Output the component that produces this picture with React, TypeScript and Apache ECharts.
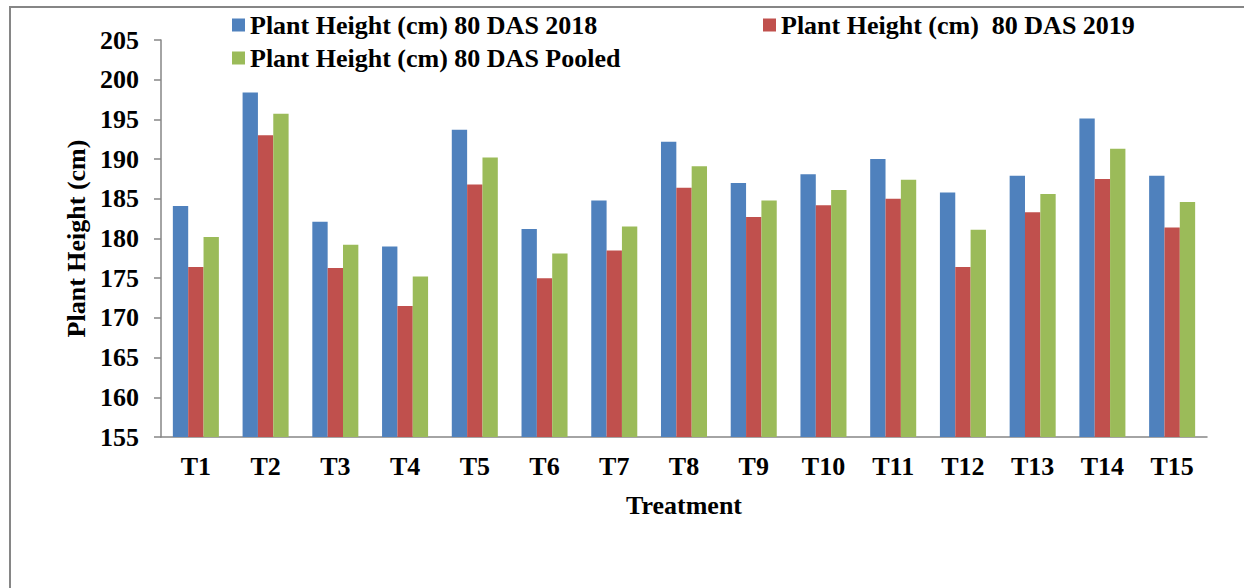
import React, { useEffect, useRef } from "react";
import * as echarts from "echarts";

const categories = ["T1", "T2", "T3", "T4", "T5", "T6", "T7", "T8", "T9", "T10", "T11", "T12", "T13", "T14", "T15"];
const seriesNames = [
  "Plant Height (cm) 80 DAS 2018",
  "Plant Height (cm)  80 DAS 2019",
  "Plant Height (cm) 80 DAS Pooled",
];
const values2018 = [184.1, 198.4, 182.1, 179.0, 193.7, 181.2, 184.8, 192.2, 187.0, 188.1, 190.0, 185.8, 187.9, 195.1, 187.9];
const values2019 = [176.4, 193.0, 176.3, 171.5, 186.8, 175.0, 178.5, 186.4, 182.7, 184.2, 185.0, 176.4, 183.3, 187.5, 181.4];
const valuesPooled = [180.2, 195.7, 179.2, 175.2, 190.2, 178.1, 181.5, 189.1, 184.8, 186.1, 187.4, 181.1, 185.6, 191.3, 184.6];
const yMin = 155;
const yMax = 205;
const yStep = 5;

const FONT = "'Times New Roman', 'Liberation Serif', serif";
const colors = ["#4F81BD", "#C0504D", "#9BBB59"];

export default function App() {
  const ref = useRef<HTMLDivElement>(null);
  useEffect(() => {
    if (!ref.current) return;
    const chart = echarts.init(ref.current, null, { renderer: "svg" });
    const textBase = { fontFamily: FONT, fontWeight: "bold" as const, fontSize: 26, color: "#000" };
    const legendBase = {
      orient: "horizontal" as const,
      itemWidth: 13,
      itemHeight: 13,
      icon: "rect",
      textStyle: { ...textBase },
    };
    chart.setOption({
      animation: false,
      backgroundColor: "#fff",
      color: colors,
      graphic: [
        {
          type: "rect",
          shape: { x: 10, y: 7, width: 1300, height: 700 },
          style: { fill: "none", stroke: "#868686", lineWidth: 2 },
          silent: true,
        },
      ],
      legend: [
        { ...legendBase, data: [seriesNames[0]], left: 227, top: 7 },
        { ...legendBase, data: [seriesNames[1]], left: 758, top: 7 },
        { ...legendBase, data: [seriesNames[2]], left: 227, top: 40 },
      ],
      grid: { left: 161, right: 37, top: 40, bottom: 151, containLabel: false },
      xAxis: {
        type: "category",
        data: categories,
        axisLine: { lineStyle: { color: "#868686", width: 1.5 } },
        axisTick: { show: false },
        axisLabel: { ...textBase, margin: 16 },
        name: "Treatment",
        nameLocation: "middle",
        nameGap: 55,
        nameTextStyle: { ...textBase },
      },
      yAxis: {
        type: "value",
        min: yMin,
        max: yMax,
        interval: yStep,
        axisLine: { show: true, lineStyle: { color: "#868686", width: 1.5 } },
        axisTick: { show: true, length: 7, lineStyle: { color: "#868686", width: 1.5 } },
        splitLine: { show: false },
        axisLabel: { ...textBase, margin: 22 },
        name: "Plant Height (cm)",
        nameLocation: "middle",
        nameRotate: 90,
        nameGap: 70,
        nameTextStyle: { ...textBase },
      },
      series: [
        { name: seriesNames[0], type: "bar", data: values2018, barGap: "0%", barCategoryGap: "34%" },
        { name: seriesNames[1], type: "bar", data: values2019, barGap: "0%", barCategoryGap: "34%" },
        { name: seriesNames[2], type: "bar", data: valuesPooled, barGap: "0%", barCategoryGap: "34%" },
      ],
    });
    return () => chart.dispose();
  }, []);
  return (
    <div
      ref={ref}
      style={{ position: "absolute", left: 0, top: 0, width: 1244, height: 588 }}
    />
  );
}
